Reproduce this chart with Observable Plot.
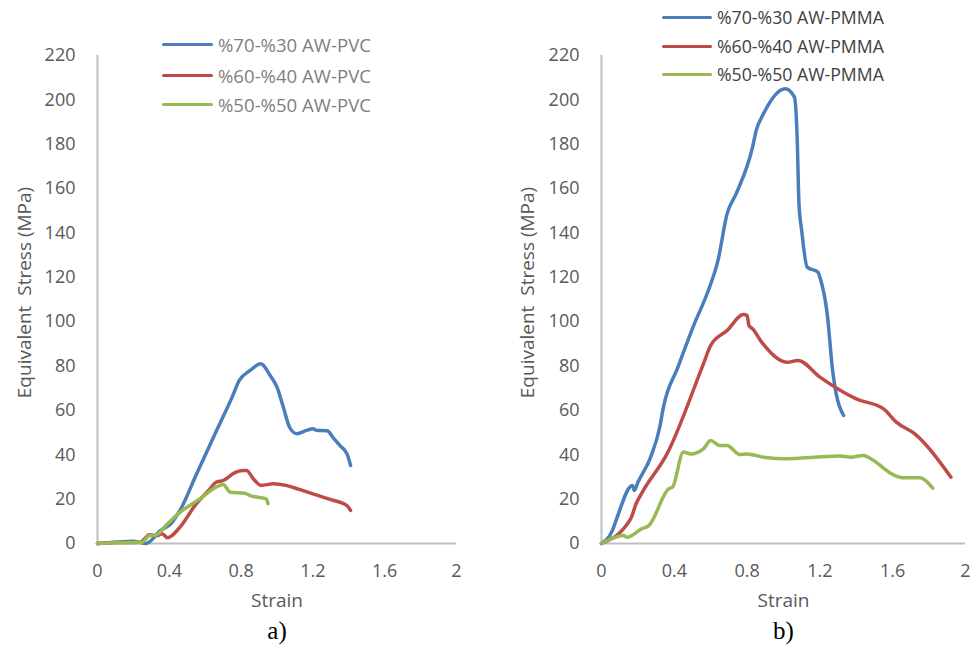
<!DOCTYPE html>
<html>
<head>
<meta charset="utf-8">
<script src="https://cdn.jsdelivr.net/npm/d3@7"></script>
<script src="https://cdn.jsdelivr.net/npm/@observablehq/plot@0.6"></script>
<style>
  html, body { margin: 0; padding: 0; background: #fff; }
  #wrap { position: relative; width: 972px; height: 654px; overflow: hidden; }
  .panel { position: absolute; top: 0; }
  .legend { position: absolute; font-family: "Open Sans", sans-serif; }
  .legend .item { position: absolute; white-space: nowrap; display: flex; align-items: center; }
  .legend .swatch { display: inline-block; height: 3px; border-radius: 2px; }
</style>
</head>
<body>
<div id="wrap"></div>
<script>
// ---------- data ----------
const xTicks = [0, 0.4, 0.8, 1.2, 1.6, 2];
const yTicks = [0, 20, 40, 60, 80, 100, 120, 140, 160, 180, 200, 220];
const colors = ["#4A7EBB", "#BE4B48", "#98B954"];

const seriesPVC = ["%70-%30 AW-PVC", "%60-%40 AW-PVC", "%50-%50 AW-PVC"];
const seriesPMMA = ["%70-%30 AW-PMMA", "%60-%40 AW-PMMA", "%50-%50 AW-PMMA"];

// a) PVC
const strainPVC70 = [0, 0.1, 0.2, 0.27, 0.35, 0.41, 0.46, 0.55, 0.65, 0.75, 0.79, 0.85, 0.91, 0.96, 1.0, 1.035, 1.07, 1.11, 1.165, 1.2, 1.22, 1.28, 1.31, 1.35, 1.39, 1.41];
const stressPVC70 = [0, 0.6, 1, 0, 5.8, 9, 15, 31, 48.6, 66, 73.5, 78, 81, 76, 70.5, 61.5, 52.4, 49.5, 51, 51.7, 51, 50.8, 48, 44.2, 40.4, 35.2];
const strainPVC60 = [0, 0.1, 0.2, 0.24, 0.29, 0.33, 0.36, 0.39, 0.46, 0.55, 0.62, 0.66, 0.7, 0.76, 0.81, 0.83, 0.87, 0.91, 0.98, 1.05, 1.12, 1.2, 1.3, 1.39, 1.41];
const stressPVC60 = [0, 0.5, 0.5, 0.6, 4, 3.5, 4.4, 2.6, 7.4, 17.9, 24, 27.6, 28.4, 31.7, 32.9, 32.9, 29, 26.2, 26.9, 26.2, 24.5, 22.4, 19.8, 17.1, 14.9];
const strainPVC50 = [0, 0.1, 0.2, 0.25, 0.29, 0.32, 0.39, 0.46, 0.57, 0.66, 0.7, 0.74, 0.82, 0.85, 0.94, 0.95];
const stressPVC50 = [0, 0.3, 0.5, 0.6, 3.6, 3.6, 8.9, 14.1, 20.1, 25.4, 26.6, 23.1, 22.7, 21.6, 20.1, 17.9];

// b) PMMA
const strainPMMA70 = [0, 0.06, 0.08, 0.17, 0.18, 0.2, 0.27, 0.32, 0.34, 0.42, 0.51, 0.58, 0.64, 0.69, 0.74, 0.83, 0.85, 0.89, 1.01, 1.06, 1.075, 1.085, 1.1, 1.13, 1.19, 1.2, 1.24, 1.27, 1.28, 1.33];
const stressPMMA70 = [0, 5.9, 10.4, 26.2, 23.9, 27.6, 38.9, 52.4, 61.4, 79.5, 99, 112.6, 127.6, 148.6, 157.7, 178.7, 186.2, 193.7, 205, 201.2, 183.2, 153.2, 141.1, 124.6, 122.3, 120, 103.6, 78, 72, 57.7];
const strainPMMA60 = [0, 0.16, 0.19, 0.23, 0.36, 0.56, 0.6, 0.69, 0.78, 0.8, 0.81, 0.83, 0.88, 1.02, 1.08, 1.2, 1.4, 1.55, 1.62, 1.72, 1.92];
const stressPMMA60 = [0, 11.1, 17.9, 23.9, 40.4, 81, 89.3, 96, 103.2, 102.8, 98.3, 96.8, 90.8, 81.7, 82.5, 75, 65.2, 60.7, 54.7, 49.5, 29.9];
const strainPMMA50 = [0, 0.12, 0.14, 0.22, 0.26, 0.37, 0.39, 0.45, 0.49, 0.56, 0.6, 0.65, 0.69, 0.76, 0.8, 0.89, 1.02, 1.17, 1.31, 1.37, 1.44, 1.48, 1.61, 1.66, 1.75, 1.78, 1.82];
const stressPMMA50 = [0, 3.6, 2.8, 6.6, 8.1, 24.7, 25.4, 41.2, 40.4, 42.7, 46.4, 44.2, 44.2, 40.1, 40.4, 38.9, 38.2, 38.9, 39.5, 38.9, 39.7, 38.2, 30.7, 29.6, 29.6, 28.4, 24.9];

// ---------- build ----------
function rows(name, xs, ys) { return xs.map((x, i) => ({series: name, strain: x, stress: ys[i]})); }

const dataPVC = [
  ...rows(seriesPVC[0], strainPVC70, stressPVC70),
  ...rows(seriesPVC[1], strainPVC60, stressPVC60),
  ...rows(seriesPVC[2], strainPVC50, stressPVC50)
];
const dataPMMA = [
  ...rows(seriesPMMA[0], strainPMMA70, stressPMMA70),
  ...rows(seriesPMMA[1], strainPMMA60, stressPMMA60),
  ...rows(seriesPMMA[2], strainPMMA50, stressPMMA50)
];

function panel(data, series, opts) {
  return Plot.plot({
    width: 486,
    height: 654,
    marginLeft: opts.marginLeft,
    marginRight: opts.marginRight,
    marginTop: 55,
    marginBottom: 111,
    x: {domain: [0, 2]},
    y: {domain: [0, 220]},
    color: {domain: series, range: colors},
    style: {fontFamily: "'Open Sans', sans-serif", fontSize: "18px", color: "#595959", background: "transparent", overflow: "visible"},
    marks: [
      Plot.axisX(xTicks, {tickSize: 0, tickPadding: 21, label: null, tickFormat: d => String(d), fill: "#595959", fontSize: 18}),
      Plot.axisY(yTicks, {tickSize: 0, tickPadding: 22, label: null, fill: "#595959", fontSize: 18}),
      Plot.ruleY([0], {stroke: "#BFBFBF", strokeWidth: 2}),
      Plot.ruleX([0], {stroke: "#BFBFBF", strokeWidth: 2}),
      Plot.line(data, {x: "strain", y: "stress", z: "series", stroke: "series", strokeWidth: 3.5, curve: "monotone-x", strokeLinecap: "round", strokeLinejoin: "round"}),
      Plot.text(["Strain"], {frameAnchor: "bottom", dy: 63, text: d => d, fontSize: 19, fill: "#595959", textAnchor: "middle"}),
      Plot.text(["Equivalent\u00a0 Stress (MPa)"], {frameAnchor: "left", dx: opts.titleDx, dy: -7, rotate: -90, textAnchor: "middle", text: d => d, fontSize: 19, fill: "#595959"}),
      Plot.text([opts.tag], {frameAnchor: "bottom", dy: 95, text: d => d, fontSize: 25, fill: "#000", textAnchor: "middle", fontFamily: "'Liberation Serif', 'Times New Roman', serif"})
    ]
  });
}

const wrap = document.getElementById("wrap");

const left = panel(dataPVC, seriesPVC, {marginLeft: 97, marginRight: 30, titleDx: -73, tag: "a)"});
left.classList.add("panel");
left.style.left = "0px";
wrap.appendChild(left);

const right = panel(dataPMMA, seriesPMMA, {marginLeft: 115, marginRight: 7, titleDx: -74, tag: "b)"});
right.classList.add("panel");
right.style.left = "486px";
wrap.appendChild(right);

function legend(series, x, ys, swatchW, fontSize, color) {
  const lg = document.createElement("div");
  lg.className = "legend";
  lg.style.left = x + "px";
  lg.style.top = "0px";
  series.forEach((s, i) => {
    const it = document.createElement("div");
    it.className = "item";
    it.style.left = "0px";
    it.style.top = (ys[i] - 13) + "px";
    it.style.height = "26px";
    const sw = document.createElement("span");
    sw.className = "swatch";
    sw.style.width = swatchW + "px";
    sw.style.background = colors[i];
    sw.style.marginRight = "5px";
    const tx = document.createElement("span");
    tx.textContent = s;
    tx.style.fontSize = fontSize + "px";
    tx.style.color = color;
    it.appendChild(sw);
    it.appendChild(tx);
    lg.appendChild(it);
  });
  wrap.appendChild(lg);
}

legend(seriesPVC, 162, [44, 75, 104], 51, 18.6, "#7F7F7F");
legend(seriesPMMA, 662, [17, 46, 74], 50, 17.7, "#404040");
</script>
</body>
</html>
